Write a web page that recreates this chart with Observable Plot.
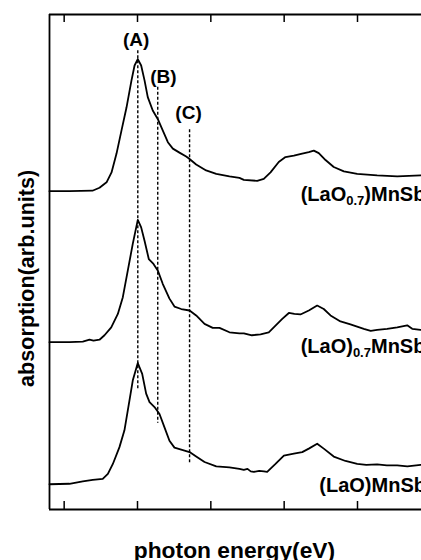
<!DOCTYPE html>
<html>
<head>
<meta charset="utf-8">
<script src="https://cdn.jsdelivr.net/npm/d3@7"></script>
<script src="https://cdn.jsdelivr.net/npm/@observablehq/plot@0.6"></script>
<style>
  html, body { margin: 0; padding: 0; background: #fff; overflow: hidden; }
  #chart { width: 421px; height: 560px; overflow: hidden; }
</style>
</head>
<body>
<div id="chart"></div>
<script>
const FONT = '"Liberation Sans", Arial, Helvetica, sans-serif';

// (LaO0.7)MnSb — top spectrum
const topE = [634.00,635.36,636.93,637.41,637.89,638.23,638.57,638.91,639.25,639.59,639.80,640.02,640.25,640.48,640.70,641.04,641.38,641.72,642.07,642.41,642.86,643.32,643.55,644.00,644.68,645.37,646.27,646.95,647.25,648.16,648.61,649.07,649.63,650.09,650.66,651.23,651.68,652.02,652.36,652.82,653.38,654.07,654.98,656.34,657.71,659.30];
const topA = [6.43,6.43,6.44,6.50,6.61,6.81,7.19,7.66,8.12,8.67,8.97,9.10,8.97,8.67,8.33,8.06,7.89,7.66,7.42,7.29,7.21,7.13,7.08,6.97,6.85,6.78,6.73,6.70,6.66,6.64,6.68,6.81,7.02,7.12,7.15,7.19,7.22,7.25,7.20,7.06,6.92,6.83,6.78,6.75,6.73,6.75];

// (LaO)0.7MnSb — middle spectrum
const midE = [634.00,635.36,636.27,636.73,637.00,637.41,637.75,638.21,638.66,639.00,639.34,639.68,640.02,640.25,640.48,640.77,641.09,641.38,641.72,642.18,642.52,642.98,643.55,644.00,644.57,645.13,645.59,646.27,646.95,647.25,647.80,648.39,648.95,649.29,649.87,650.32,650.70,651.11,651.68,652.25,652.70,653.16,653.84,654.52,655.43,655.90,656.34,657.02,657.71,658.39,658.73,659.30];
const midA = [3.38,3.38,3.39,3.43,3.41,3.43,3.52,3.68,3.95,4.29,4.83,5.37,5.85,5.70,5.43,5.06,4.96,4.83,4.56,4.26,4.10,4.05,4.02,3.92,3.75,3.67,3.67,3.58,3.56,3.56,3.52,3.54,3.58,3.68,3.85,3.97,3.95,3.94,4.02,4.12,4.05,3.92,3.80,3.74,3.65,3.61,3.63,3.65,3.68,3.72,3.65,3.63];

// (LaO)MnSb — bottom spectrum
const botE = [634.00,635.36,636.27,636.95,637.63,637.98,638.32,638.77,639.11,639.45,639.68,640.02,640.32,640.59,640.82,641.16,641.50,641.84,642.18,642.52,642.98,643.55,644.00,644.57,645.37,646.27,646.95,647.25,647.50,647.72,647.93,648.30,648.62,648.84,649.41,649.98,650.66,651.23,651.68,652.25,652.70,653.38,654.18,654.98,655.60,656.34,657.00,657.71,658.40,659.30];
const botA = [0.51,0.52,0.57,0.60,0.62,0.72,0.92,1.26,1.60,2.20,2.61,2.96,2.74,2.34,2.17,2.07,1.93,1.66,1.39,1.25,1.21,1.16,1.07,0.96,0.87,0.85,0.82,0.80,0.82,0.77,0.76,0.78,0.77,0.76,0.92,1.09,1.13,1.16,1.23,1.33,1.23,1.07,0.98,0.92,0.90,0.91,0.89,0.89,0.87,0.90];

// dotted guide lines (A), (B), (C)
const guideNames = ["(A)", "(B)", "(C)"];
const guideX = [640.02, 641.38, 643.55];
const guideTop = [9.27, 8.53, 7.67];
const guideBottom = [2.40, 1.74, 0.93];
const guideLabelX = [639.91, 641.77, 643.48];
const guideLabelY = [9.49, 8.73, 8.02];

// axis ticks (no labels)
const tickValues = [635, 640, 645, 650, 655, 660];

// sample labels
const sampleLabelX = [651.16, 651.16, 652.43];
const sampleLabelY = [6.22, 3.16, 0.35];
const sampleLabelParts = [
  [["(LaO", false], ["0.7", true], [")MnSb", false]],
  [["(LaO)", false], ["0.7", true], ["MnSb", false]],
  [["(LaO)MnSb", false]]
];

const xLabel = "photon energy(eV)";
const yLabel = "absorption(arb.units)";

const series = [
  ...topE.map((e, i) => ({s: "top", e, a: topA[i]})),
  ...midE.map((e, i) => ({s: "mid", e, a: midA[i]})),
  ...botE.map((e, i) => ({s: "bot", e, a: botA[i]}))
];
const guides = guideNames.map((n, i) => ({n, x: guideX[i], y1: guideTop[i], y2: guideBottom[i], lx: guideLabelX[i], ly: guideLabelY[i]}));
const samples = sampleLabelParts.map((p, i) => ({parts: p, x: sampleLabelX[i], y: sampleLabelY[i]}));

function sampleLabelMark(index, scales) {
  const g = d3.create("svg:g")
    .attr("font-family", FONT)
    .attr("font-weight", "bold")
    .attr("font-size", 20)
    .attr("text-anchor", "start")
    .attr("fill", "#000");
  for (const s of samples) {
    const t = g.append("text").attr("x", scales.x(s.x)).attr("y", scales.y(s.y));
    let shifted = false;
    for (const [txt, sub] of s.parts) {
      const ts = t.append("tspan").text(txt);
      if (sub) { ts.attr("font-size", 13).attr("dy", 4); shifted = true; }
      else if (shifted) { ts.attr("dy", -4); shifted = false; }
    }
  }
  return g.node();
}

const chart = Plot.plot({
  width: 421,
  height: 560,
  marginLeft: 49,
  marginRight: 0,
  marginTop: 14,
  marginBottom: 51,
  style: {fontFamily: FONT, background: "#fff", overflow: "hidden"},
  x: {domain: [634, 661], range: [49, 445], axis: null},
  y: {domain: [0, 10], axis: null},
  marks: [
    Plot.ruleY([0, 10], {x1: 634, x2: 661, stroke: "#000", strokeWidth: 1.8}),
    Plot.ruleX([634], {y1: 0, y2: 10, stroke: "#000", strokeWidth: 1.8}),
    Plot.tickX(tickValues, {x: d => d, insetBottom: 487, stroke: "#000", strokeWidth: 1.5}),
    Plot.tickX(tickValues, {x: d => d, insetTop: 487, stroke: "#000", strokeWidth: 1.5}),
    Plot.ruleX(guides, {x: "x", y1: "y1", y2: "y2", stroke: "#000", strokeWidth: 1.4, strokeDasharray: "3,2"}),
    Plot.line(series, {x: "e", y: "a", z: "s", stroke: "#000", strokeWidth: 1.8, strokeLinejoin: "round"}),
    Plot.text(guides, {x: "lx", y: "ly", text: "n", fontSize: 19, fontWeight: "bold", fill: "#000", lineAnchor: "middle", textAnchor: "middle"}),
    sampleLabelMark,
    Plot.text([xLabel], {text: d => d, x: () => 646.61, frameAnchor: "bottom", lineAnchor: "bottom", textAnchor: "middle", dy: 48, fontSize: 22.8, fontWeight: "bold", fill: "#000"}),
    Plot.text([yLabel], {text: d => d, y: () => 4.67, frameAnchor: "left", lineAnchor: "bottom", textAnchor: "middle", rotate: -90, dx: -16, fontSize: 21.6, fontWeight: "bold", fill: "#000"})
  ]
});
document.getElementById("chart").appendChild(chart);
</script>
</body>
</html>
